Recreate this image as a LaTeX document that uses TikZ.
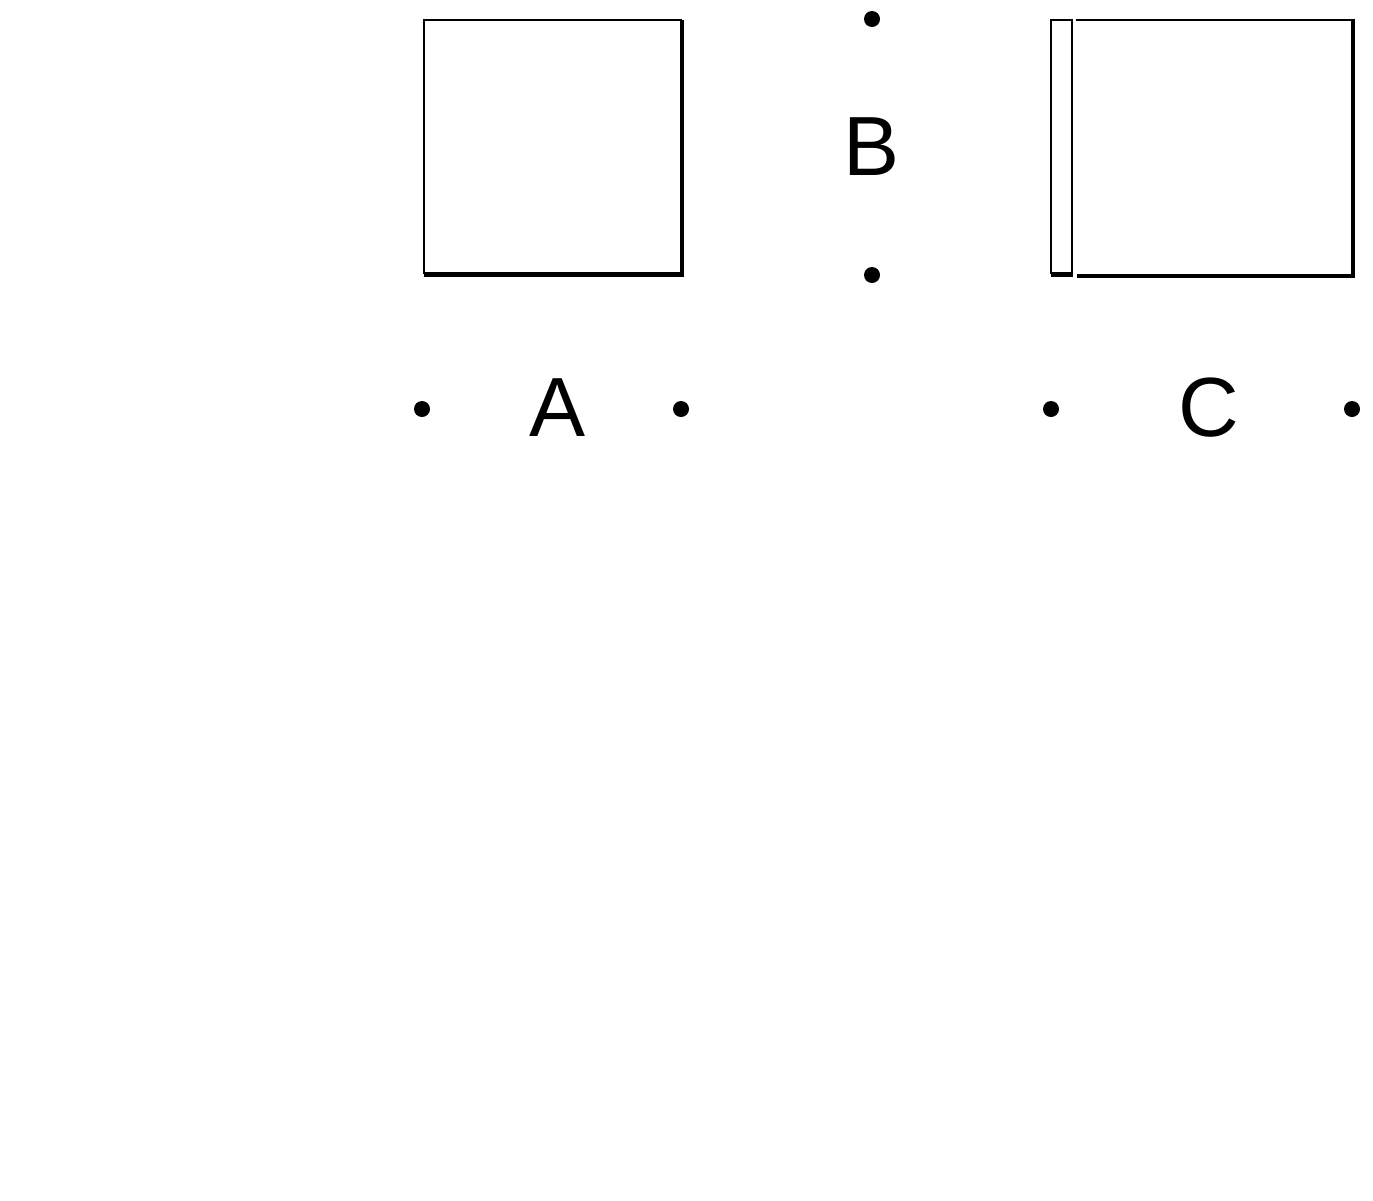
\documentclass[tikz,border=0pt]{standalone}
\usepackage{fontspec}
\setmainfont{Liberation Sans}
\begin{document}
\begin{tikzpicture}[x=1pt,y=-1pt,
  dotnode/.style={circle,fill=black,inner sep=0pt,minimum size=16pt},
  letter/.style={font=\fontsize{84}{84}\selectfont,inner sep=0pt,anchor=base},
  thinline/.style={line width=2pt},
  shadowline/.style={line width=4.5pt}]
\useasboundingbox (0,0) rectangle (1373,1200);
% box A
\coordinate (a1) at (424,20);
\coordinate (a2) at (681,273);
\draw[thinline] (a1) rectangle (a2);
\draw[shadowline] (682,20) -- (682,275) -- (424,275);
% box C strip
\draw[thinline] (1051,20) rectangle (1072,273);
\draw[shadowline] (1051,275) -- (1073,275);
% box C main
\draw[thinline] (1076,20) -- (1353,20);
\draw[shadowline] (1353,19) -- (1353,276) -- (1077,276);
% letters
\node[letter] (A) at (558,436) {A};
\node[letter] (B) at (872,175) {B};
\node[letter] (C) at (1209,436) {C};
% dots
\node[dotnode] (b1) at (872,19) {};
\node[dotnode] (b2) at (872,275) {};
\node[dotnode] (a3) at (422,409) {};
\node[dotnode] (a4) at (681,409) {};
\node[dotnode] (c1) at (1051,409) {};
\node[dotnode] (c2) at (1352,409) {};
\end{tikzpicture}
\end{document}
